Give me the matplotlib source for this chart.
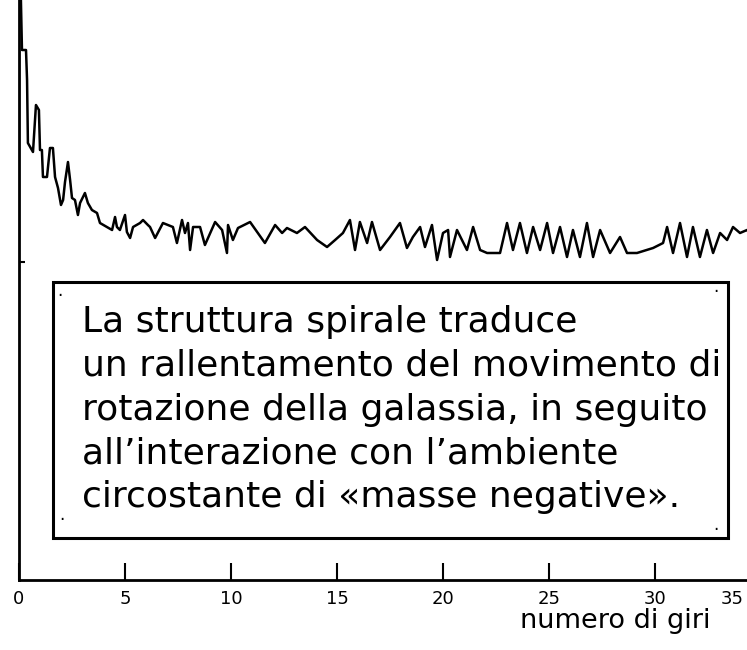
import matplotlib.pyplot as plt
from matplotlib.patches import Rectangle
from matplotlib.transforms import ScaledTranslation

# rotation speed vs number of turns (arbitrary units)
turns = [0.00, 0.09, 0.14, 0.33, 0.38, 0.42, 0.66, 0.80, 0.94, 0.99,
         1.08, 1.13, 1.32, 1.46, 1.60, 1.70, 1.84, 1.98, 2.08, 2.17,
         2.31, 2.41, 2.50, 2.64, 2.78, 2.88, 3.11, 3.25, 3.44, 3.68,
         3.82, 4.15, 4.39, 4.53, 4.62, 4.76, 5.00, 5.09, 5.24, 5.38,
         5.71, 5.85, 6.08, 6.18, 6.42, 6.79, 7.26, 7.45, 7.69, 7.83,
         7.97, 8.07, 8.21, 8.54, 8.77, 9.25, 9.58, 9.81, 9.86, 10.09,
         10.33, 10.90, 11.60, 12.08, 12.41, 12.64, 13.11, 13.49, 14.06, 14.53,
         14.91, 15.28, 15.61, 15.85, 16.08, 16.42, 16.65, 17.03, 17.50, 17.97,
         18.30, 18.58, 18.92, 19.15, 19.48, 19.72, 20.00, 20.24, 20.33, 20.66,
         21.13, 21.42, 21.75, 22.08, 22.69, 23.02, 23.30, 23.63, 23.96, 24.25,
         24.58, 24.91, 25.19, 25.52, 25.85, 26.13, 26.46, 26.79, 27.08, 27.41,
         27.88, 28.35, 28.68, 29.15, 29.91, 30.38, 30.57, 30.85, 31.18, 31.51,
         31.79, 32.12, 32.45, 32.74, 33.07, 33.40, 33.68, 34.01, 34.34, 34.70]
speed = [68.0, 58.0, 53.0, 53.0, 50.0, 43.7, 42.8, 47.5, 47.0, 43.0,
         43.0, 40.3, 40.3, 43.2, 43.2, 40.3, 39.2, 37.5, 38.0, 39.8,
         41.8, 40.0, 38.2, 38.0, 36.5, 37.7, 38.7, 37.7, 37.0, 36.7,
         35.7, 35.3, 35.0, 36.3, 35.3, 35.0, 36.5, 34.8, 34.2, 35.3,
         35.7, 36.0, 35.5, 35.3, 34.2, 35.7, 35.3, 33.7, 36.0, 34.7,
         35.7, 33.0, 35.3, 35.3, 33.5, 35.8, 35.0, 32.7, 35.5, 34.0,
         35.2, 35.8, 33.7, 35.5, 34.7, 35.2, 34.7, 35.3, 34.0, 33.3,
         34.0, 34.7, 36.0, 33.0, 35.8, 33.7, 35.8, 33.0, 34.3, 35.7,
         33.2, 34.3, 35.3, 33.3, 35.5, 32.0, 34.7, 35.0, 32.3, 35.0,
         33.0, 35.3, 33.0, 32.7, 32.7, 35.7, 33.0, 35.7, 32.7, 35.3,
         33.0, 35.7, 32.7, 35.3, 32.3, 35.0, 32.3, 35.7, 32.3, 35.0,
         32.7, 34.3, 32.7, 32.7, 33.2, 33.7, 35.3, 32.7, 35.7, 32.3,
         35.3, 32.3, 35.0, 32.7, 34.7, 34.0, 35.3, 34.7, 35.0, 34.0]

xticks = [0, 5, 10, 15, 20, 25, 30, 35]
xlabel = "numero di giri"
caption = ["La struttura spirale traduce",
           "un rallentamento del movimento di",
           "rotazione della galassia, in seguito",
           "all\u2019interazione con l\u2019ambiente",
           "circostante di \u00abmasse negative\u00bb."]

W, H = 747, 650
fig = plt.figure(figsize=(W / 100, H / 100), dpi=100)
ax = fig.add_axes([19 / W, 70 / H, 35 * 21.2 / W, 580 / H])

ax.plot(turns, speed, color="black", lw=1.8)
ax.set_xlim(0, 35)
ax.set_ylim(0, 58)

for side in ("top", "right"):
    ax.spines[side].set_visible(False)
for side in ("left", "bottom"):
    ax.spines[side].set_linewidth(2)

ax.set_xticks(xticks)
ax.tick_params(axis="x", direction="in", length=12, width=1.5, pad=7,
               labelsize=13)
ax.set_yticks([31.8])
ax.set_yticklabels([])
ax.tick_params(axis="y", direction="in", length=4, width=1.5)

# the last tick sits past the right edge; pull its label back into view
last = ax.xaxis.get_major_ticks()[-1].label1
last.set_transform(last.get_transform()
                   + ScaledTranslation(-0.29, 0, fig.dpi_scale_trans))

fig.text(520 / W, 1 - 628 / H, xlabel, fontsize=19.5, family="DejaVu Sans",
         ha="left", va="baseline")

# caption box
box = Rectangle((53 / W, 1 - 538 / H), (728 - 53) / W, (538 - 282) / H,
                transform=fig.transFigure, fill=True, facecolor="white",
                edgecolor="black", lw=2.2)
fig.patches.append(box)
for px, py in [(60, 296), (716, 292), (62, 520), (716, 530)]:
    fig.text(px / W, 1 - py / H, "\u00b7", fontsize=12, ha="center",
             va="center")

baselines = [332, 376, 420, 463, 507]
for line, by in zip(caption, baselines):
    fig.text(82 / W, 1 - by / H, line, fontsize=26, family="DejaVu Sans",
             ha="left", va="baseline")

fig.savefig("out.png", dpi=100)
